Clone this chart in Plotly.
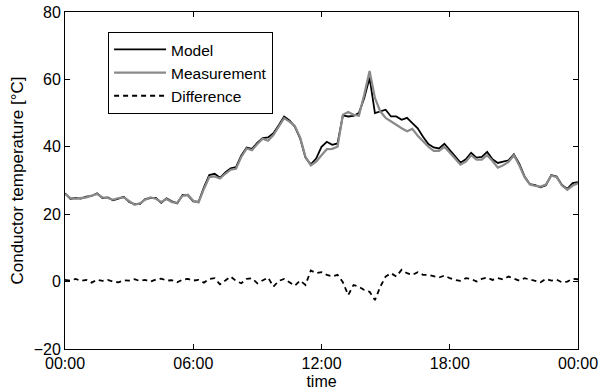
import plotly.graph_objects as go

# time in hours since 00:00 (15-minute steps)
hours = [i * 0.25 for i in range(97)]

measurement = [
    26.0, 24.8, 24.6, 24.8, 25.0, 25.5, 26.0, 25.0, 24.8, 24.3, 24.8, 25.0,
    23.8, 22.8, 23.2, 24.3, 25.0, 24.6, 23.6, 24.5, 23.6, 23.4, 25.5, 25.8,
    24.0, 23.5, 27.5, 31.0, 31.2, 30.6, 32.0, 33.2, 33.5, 37.0, 39.5, 39.0,
    40.8, 42.4, 41.8, 43.5, 46.0, 48.5, 47.5, 46.2, 42.8, 37.0, 34.5, 35.6,
    37.5, 39.3, 39.4, 40.0, 49.5, 50.3, 49.5, 49.2, 55.5, 62.5, 54.5, 50.5,
    48.6, 47.5, 46.6, 45.5, 44.6, 45.3, 43.3, 41.7, 40.0, 38.8, 38.8, 40.0,
    38.4, 36.5, 34.7, 35.6, 37.5, 36.2, 36.2, 37.5, 35.8, 33.8, 34.5, 35.5,
    37.5, 34.5, 31.0, 28.8, 28.4, 28.2, 28.8, 31.5, 31.0, 28.5, 27.2, 28.5,
    29.2,
]

model = [
    26.2, 24.6, 24.8, 24.6, 25.2, 25.4, 26.2, 24.8, 25.0, 24.1, 24.6, 25.2,
    23.6, 23.0, 23.0, 24.5, 24.8, 24.8, 23.4, 24.7, 23.8, 23.2, 25.7, 25.6,
    23.8, 23.7, 28.0, 31.6, 32.0, 30.8, 32.4, 33.6, 34.0, 37.4, 39.8, 39.4,
    41.2, 42.6, 42.8, 44.0, 46.4, 49.0, 47.8, 46.0, 42.5, 36.8, 34.8, 36.5,
    40.0, 41.5, 40.6, 41.0, 49.3, 49.0, 49.2, 50.0, 54.5, 60.5, 50.0, 50.5,
    51.0, 49.0, 49.0, 48.0, 48.6, 47.0, 45.5, 43.0, 40.8, 39.8, 39.5, 40.9,
    39.0, 37.0, 35.3, 36.3, 38.2, 36.8, 37.0, 38.5, 36.3, 35.2, 35.5, 36.0,
    37.8, 35.0, 31.2, 28.9, 28.6, 28.0, 28.6, 31.6, 31.2, 28.7, 27.5, 29.2,
    29.5,
]

difference = [
    0.5, 0.3, 0.8, 0.2, 0.5, -0.3, 0.6, 0.2, 0.5, 0.0, -0.2, 0.4,
    0.3, 0.7, 0.2, 0.5, 0.0, 0.6, 0.9, 0.3, 0.4, -0.2, 0.6, 0.8,
    0.3, 0.5, -0.3, 0.8, 1.0, -0.8, 0.3, 1.5, 0.2, -0.5, 0.8, 1.0,
    -0.5, 0.3, 1.2, -1.5, 0.2, 0.8, -0.2, -1.2, 0.3, -1.0, 3.3, 2.5,
    2.8, 2.0, 1.5, 2.0, -0.2, -4.0, -1.0, -1.5, -2.5, -3.0, -5.5, -1.5,
    1.5, 2.5, 1.5, 3.5, 2.5, 2.0, 2.8, 2.0, 2.0, 1.5, 1.2, 1.8,
    1.0, 0.5, 0.2, 1.0, 0.8, 0.0, 0.8, 1.2, 0.5, 1.0, 0.6, 1.5,
    0.8, 0.3, 1.0, 0.5, 0.2, -0.2, 0.8, 0.3, 0.6, -0.2, 0.0, 0.8,
    0.7,
]

tick_hours = [0, 6, 12, 18, 24]
tick_labels = ["00:00", "06:00", "12:00", "18:00", "00:00"]
y_ticks = [-20, 0, 20, 40, 60, 80]

fig = go.Figure()
fig.add_trace(go.Scatter(x=hours, y=model, mode="lines", name="Model",
                         line=dict(color="black", width=1.8)))
fig.add_trace(go.Scatter(x=hours, y=measurement, mode="lines", name="Measurement",
                         line=dict(color="#8a8a8a", width=2.2)))
fig.add_trace(go.Scatter(x=hours, y=difference, mode="lines", name="Difference",
                         line=dict(color="black", width=1.8, dash="5px,4px")))

font_family = "Liberation Sans, Arial, sans-serif"

fig.update_layout(
    width=600, height=390,
    margin=dict(l=65, r=22, t=12, b=41, autoexpand=False),
    paper_bgcolor="white", plot_bgcolor="white",
    font=dict(family=font_family, size=16, color="black"),
    showlegend=True,
    legend=dict(x=0.084, y=0.941, xanchor="left", yanchor="top",
                bgcolor="white", bordercolor="black", borderwidth=1,
                itemwidth=52, font=dict(size=15.5)),
    xaxis=dict(range=[0, 24], tickvals=tick_hours, ticktext=tick_labels,
               ticks="inside", ticklen=5, tickcolor="black",
               showline=True, linecolor="black", linewidth=1, mirror="ticks",
               showgrid=False, zeroline=False, automargin=False,
               ticklabeloverflow="allow",
               title=dict(text="time", standoff=4, font=dict(size=16))),
    yaxis=dict(range=[-20, 80], tickvals=y_ticks,
               ticks="inside", ticklen=5, tickcolor="black",
               showline=True, linecolor="black", linewidth=1, mirror="ticks",
               showgrid=False, zeroline=False, automargin=False,
               ticklabeloverflow="allow",
               title=dict(text="Conductor temperature [°C]", standoff=5,
                          font=dict(size=17))),
)

fig.write_html(
    "out.html",
    config={"displayModeBar": False},
    post_script="document.body.style.margin='0';document.body.style.overflow='hidden';",
)
